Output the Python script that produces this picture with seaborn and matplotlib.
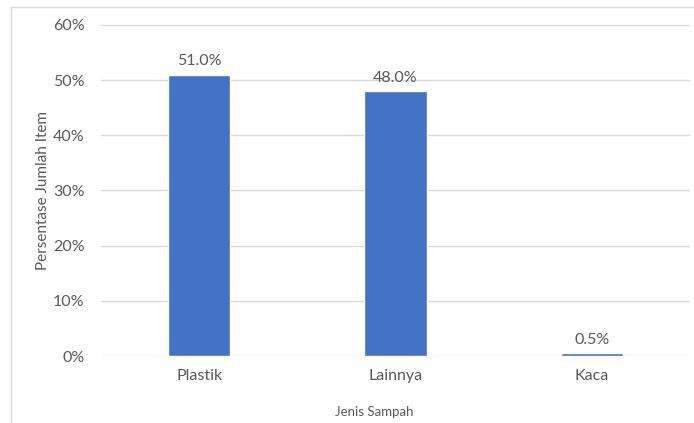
import matplotlib
matplotlib.use("Agg")
import matplotlib.pyplot as plt
from matplotlib.lines import Line2D
from matplotlib.ticker import PercentFormatter
import seaborn as sns
import pandas as pd

categories = ["Plastik", "Lainnya", "Kaca"]
values = [51.0, 48.0, 0.5]
yticks = [0, 10, 20, 30, 40, 50, 60]

sns.set_theme(style="white")
plt.rcParams["font.family"] = ["Lato", "DejaVu Sans"]

text_color = "#595959"
grid_color = "#d9d9d9"
bar_color = "#4472C4"

W, H = 694, 423
fig = plt.figure(figsize=(W / 100, H / 100), dpi=100)
ax = fig.add_axes([101 / W, 1 - 356 / H, (690 - 101) / W, (356 - 25) / H])

df = pd.DataFrame({"Jenis Sampah": categories, "Persen": values})
sns.barplot(data=df, x="Jenis Sampah", y="Persen", color=bar_color,
            width=0.316, saturation=1, ax=ax, zorder=3)

ax.set_ylim(0, 60)
ax.set_xlim(-0.5, 2.5)
ax.set_yticks(yticks)
ax.yaxis.set_major_formatter(PercentFormatter(decimals=0))
ax.grid(axis="y", color=grid_color, linewidth=1, zorder=0)
for s in ax.spines.values():
    s.set_visible(False)
ax.tick_params(axis="both", length=0, labelsize=11.5, labelcolor=text_color)
ax.tick_params(axis="y", pad=12)
ax.tick_params(axis="x", pad=9)

for i, v in enumerate(values):
    ax.text(i, v + 1.2, f"{v:.1f}%", ha="center", va="bottom",
            fontsize=11.5, color=text_color)

ax.set_xlabel("")
ax.set_ylabel("")
fig.text(374 / W, 1 - 412 / H, "Jenis Sampah", ha="center", va="center",
         fontsize=9.5, color=text_color)
fig.text(43 / W, 1 - 191 / H, "Persentase Jumlah Item", ha="center", va="center",
         rotation=90, fontsize=11, color=text_color)

# thin frame lines on the left and top of the figure
fig.add_artist(Line2D([11 / W, 11 / W], [0, 1 - 7 / H], transform=fig.transFigure,
                      color=grid_color, linewidth=1))
fig.add_artist(Line2D([11 / W, 1], [1 - 7 / H, 1 - 7 / H], transform=fig.transFigure,
                      color=grid_color, linewidth=1))

fig.savefig("out.png", dpi=100, facecolor="white")
